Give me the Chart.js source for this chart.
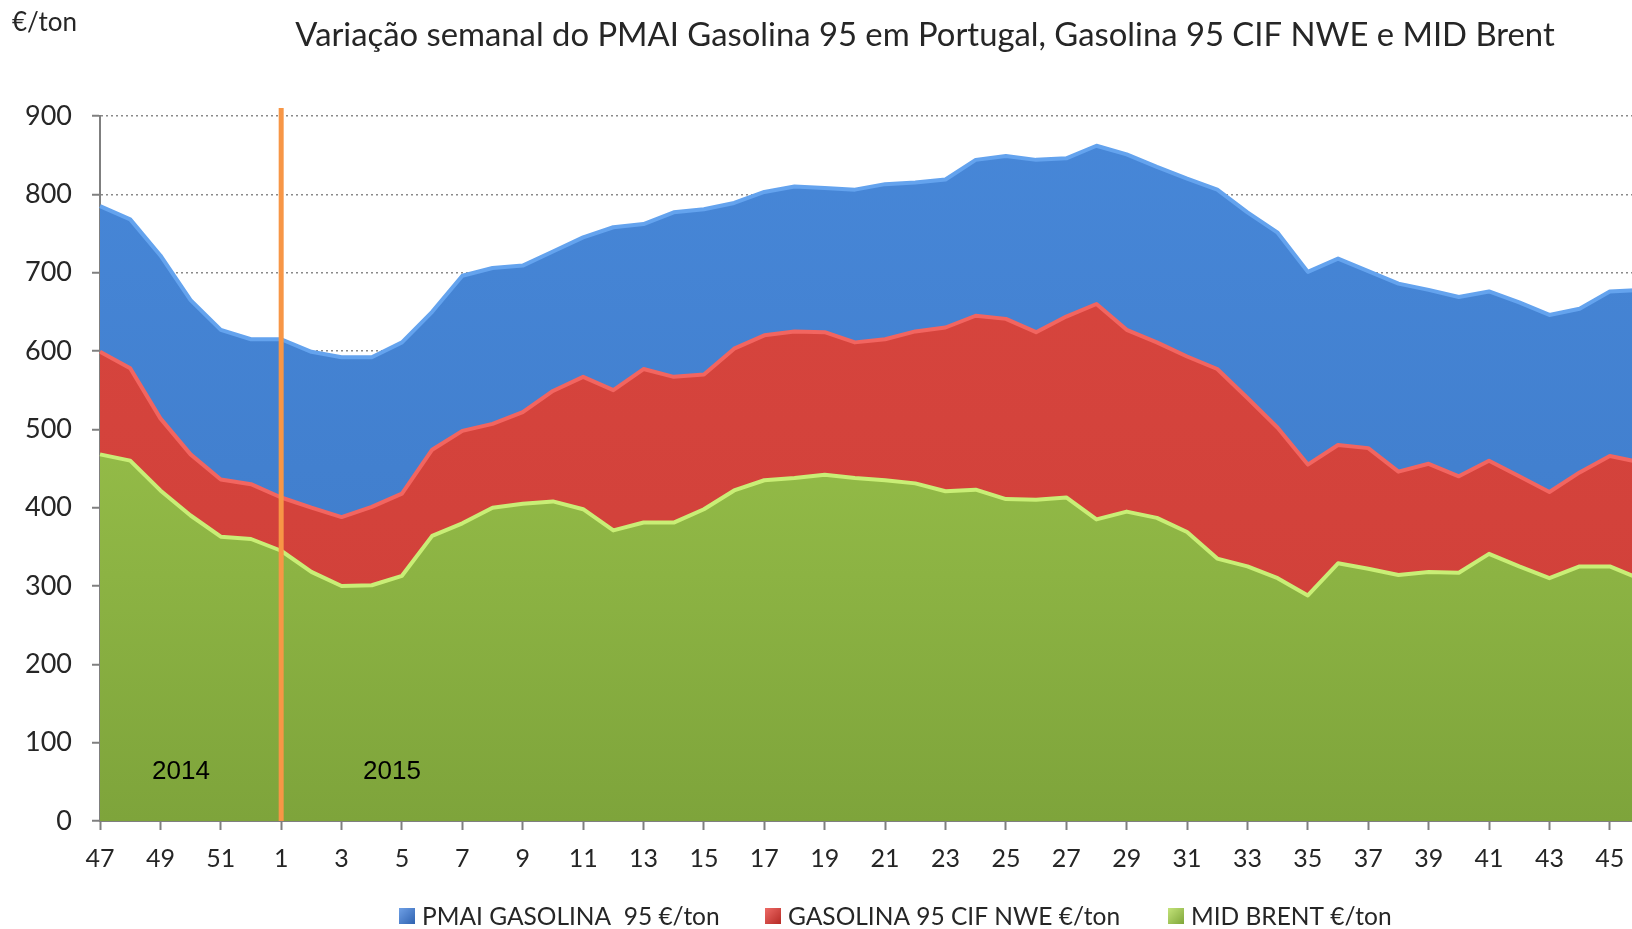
<!DOCTYPE html>
<html>
<head>
<meta charset="utf-8">
<script src="https://cdn.jsdelivr.net/npm/chart.js@4/dist/chart.umd.min.js"></script>
<style>
html,body{margin:0;padding:0;background:#fff;overflow:hidden;width:1632px;height:929px;}
#wrap{position:relative;width:1654px;height:929px;}
</style>
</head>
<body>
<div id="wrap"><canvas id="c" width="1654" height="929"></canvas></div>
<script>
// Week labels (2014 weeks 47-52, then 2015 weeks 1-46)
const weeks = ['47','48','49','50','51','52',
  '1','2','3','4','5','6','7','8','9','10','11','12','13','14','15','16','17','18','19','20',
  '21','22','23','24','25','26','27','28','29','30','31','32','33','34','35','36','37','38','39','40',
  '41','42','43','44','45','46'];

// PMAI Gasolina 95 (€/ton)
const pmai = [785,768,722,665,627,615,615,599,592,592,611,650,696,706,709,727,745,758,762,777,
  781,789,803,810,808,806,813,815,819,844,849,844,846,862,851,835,820,806,777,751,
  701,718,702,686,678,669,676,662,646,654,676,678];

// Gasolina 95 CIF NWE (€/ton)
const cifNwe = [599,578,514,468,436,430,413,400,388,401,418,474,498,507,522,549,567,550,577,567,
  570,603,620,625,624,611,615,625,630,645,641,624,644,660,627,611,593,577,540,502,
  455,480,476,446,456,440,460,440,420,445,466,458];

// Mid Brent (€/ton)
const brent = [468,460,422,390,363,360,345,318,300,301,313,364,380,400,405,408,398,371,381,381,
  398,422,435,438,442,438,435,431,421,423,411,410,413,385,395,387,369,335,325,310,
  288,329,322,314,318,317,341,325,310,325,325,309];

const seriesNames = ['PMAI GASOLINA  95 €/ton','GASOLINA 95 CIF NWE €/ton','MID BRENT €/ton'];
const yearLabels = ['2014','2015'];
const titleText = 'Variação semanal do PMAI Gasolina 95 em Portugal, Gasolina 95 CIF NWE e MID Brent';
const unitText = '€/ton';

function vGrad(c1, c2) {
  return function(context) {
    const chart = context.chart;
    const area = chart.chartArea;
    if (!area) return c1;
    const g = chart.ctx.createLinearGradient(0, area.top, 0, area.bottom);
    g.addColorStop(0, c1);
    g.addColorStop(1, c2);
    return g;
  };
}

const deco = {
  id: 'deco',
  afterDatasetsDraw(chart) {
    const ctx = chart.ctx;
    const x = chart.scales.x.getPixelForValue(weeks.indexOf('1'));
    ctx.save();
    ctx.strokeStyle = '#f79646';
    ctx.lineWidth = 5;
    ctx.beginPath();
    ctx.moveTo(x, 108);
    ctx.lineTo(x, chart.chartArea.bottom);
    ctx.stroke();
    // year labels
    ctx.fillStyle = '#000';
    ctx.font = '26px "Liberation Sans", Arial, sans-serif';
    ctx.textAlign = 'center';
    ctx.textBaseline = 'middle';
    ctx.fillText(yearLabels[0], 181, 772);
    ctx.fillText(yearLabels[1], 392, 772);
    ctx.restore();
  },
  afterDraw(chart) {
    const ctx = chart.ctx;
    ctx.save();
    ctx.fillStyle = '#262626';
    ctx.textBaseline = 'middle';
    ctx.textAlign = 'center';
    ctx.font = '32.8px Lato, "Open Sans", sans-serif';
    ctx.fillText(titleText, 925, 35);
    ctx.textAlign = 'left';
    ctx.font = '26px Lato, "Open Sans", sans-serif';
    ctx.fillText(unitText, 12, 23);
    // legend
    const boxes = [399, 765, 1168];
    const cols = [['#6fa0e6','#2f62b0'],['#ee6a66','#b52a25'],['#c4e37a','#7fa63a']];
    const ly = 916;
    ctx.font = '24.5px Lato, "Open Sans", sans-serif';
    chart.data.datasets.forEach((ds, i) => {
      const bx = boxes[i];
      const g = ctx.createLinearGradient(bx, ly - 8, bx + 16, ly + 8);
      g.addColorStop(0, cols[i][0]);
      g.addColorStop(1, cols[i][1]);
      ctx.fillStyle = g;
      ctx.fillRect(bx, ly - 8, 16, 16);
      ctx.fillStyle = '#262626';
      ctx.fillText(ds.label, bx + 23, ly + 1);
    });
    ctx.restore();
  }
};

new Chart(document.getElementById('c'), {
  type: 'line',
  data: {
    labels: weeks,
    datasets: [
      { label: seriesNames[0], data: pmai, fill: 'origin', order: 3,
        backgroundColor: vGrad('#4787d8', '#3d79c6'), borderColor: '#64a3ee', borderWidth: 4 },
      { label: seriesNames[1], data: cifNwe, fill: 'origin', order: 2,
        backgroundColor: vGrad('#d8463f', '#cf3f38'), borderColor: '#f26560', borderWidth: 4 },
      { label: seriesNames[2], data: brent, fill: 'origin', order: 1,
        backgroundColor: vGrad('#a6cf52', '#7ea43b'), borderColor: '#c9ee76', borderWidth: 4 }
    ]
  },
  options: {
    responsive: false,
    animation: false,
    layout: { padding: { top: 116, right: 0, bottom: 48, left: 0 } },
    elements: { point: { radius: 0 }, line: { tension: 0, borderJoinStyle: 'round' } },
    plugins: { legend: { display: false }, title: { display: false }, tooltip: { enabled: false } },
    scales: {
      x: {
        grid: { drawOnChartArea: false, drawTicks: true, tickLength: 9, tickWidth: 2,
                tickColor: (c) => (c.index % 2 ? 'rgba(0,0,0,0)' : '#7f7f7f') },
        border: { color: '#7f7f7f', width: 2 },
        ticks: { autoSkip: false, maxRotation: 0, padding: 14, color: '#262626',
                 font: { family: 'Lato', size: 25 },
                 callback: function(v, i) { return i % 2 === 0 ? this.getLabelForValue(v) : ''; } },
        afterFit: (s) => { s.height = 60; }
      },
      y: {
        min: 0, max: 900,
        ticks: { stepSize: 100, padding: 20, color: '#262626', font: { family: 'Lato', size: 27 } },
        grid: { color: '#8a8a8a', lineWidth: 1.5, tickLength: 8, tickColor: '#7f7f7f', tickBorderDash: [], tickWidth: 2 },
        border: { color: '#7f7f7f', width: 2, dash: [2, 3] },
        afterFit: (s) => { s.width = 100; }
      }
    }
  },
  plugins: [deco]
});
</script>
</body>
</html>
